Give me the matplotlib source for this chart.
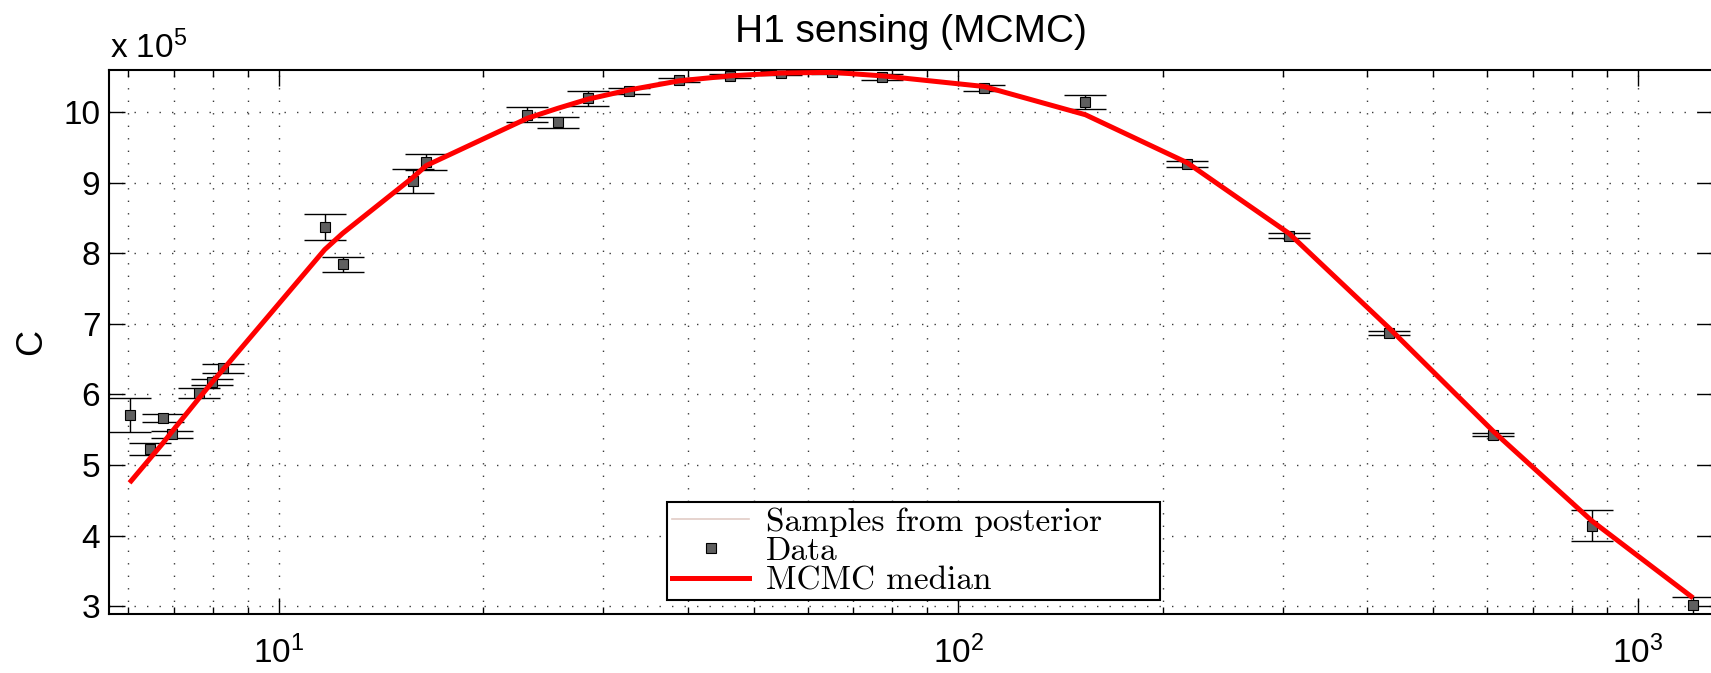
import matplotlib
matplotlib.use("Agg")
from matplotlib import pyplot as plt
from matplotlib.lines import Line2D
from matplotlib.ticker import LogLocator, FixedLocator, FuncFormatter

# frequency points (Hz) and C values in units of 1e5
freq = [6.03, 6.47, 6.75, 6.97, 7.62, 7.97, 8.29, 11.68, 12.41, 15.74, 16.48,
        23.22, 25.72, 28.5, 32.73, 38.85, 46.1, 54.74, 65.2, 77.3, 109.0,
        153.8, 217.2, 306.6, 430.5, 612.5, 855.9, 1206.0]
data = [5.71, 5.225, 5.67, 5.44, 6.02, 6.18, 6.37, 8.37, 7.84, 9.02, 9.29,
        9.96, 9.85, 10.19, 10.30, 10.45, 10.51, 10.55, 10.56, 10.49, 10.34,
        10.14, 9.26, 8.25, 6.866, 5.433, 4.14, 3.02]
err = [0.235, 0.085, 0.06, 0.05, 0.07, 0.04, 0.06, 0.19, 0.11, 0.165, 0.11,
       0.11, 0.08, 0.11, 0.04, 0.03, 0.03, 0.03, 0.03, 0.04, 0.045,
       0.095, 0.04, 0.04, 0.03, 0.025, 0.22, 0.12]
median = [4.75, 5.10, 5.31, 5.48, 5.94, 6.17, 6.36, 8.05, 8.28, 9.07, 9.24,
          9.91, 10.05, 10.18, 10.31, 10.44, 10.51, 10.55, 10.56, 10.51, 10.36,
          9.96, 9.28, 8.28, 6.94, 5.48, 4.21, 3.12]

y_ticks = [3, 4, 5, 6, 7, 8, 9, 10]
legend_labels = ["Samples from posterior", "Data", "MCMC median"]

SAMPLE_COLOR = "#e2ccc6"
MARKER_FACE = "#5f5f5f"

plt.rcParams["font.family"] = ["Liberation Sans", "DejaVu Sans"]
plt.rcParams["mathtext.default"] = "regular"

fig = plt.figure(figsize=(17.11, 6.73), dpi=100)
ax = fig.add_axes([109.3 / 1711, 1 - 613.5 / 673, (1713 - 109.3) / 1711, 543.5 / 673])

ax.plot(freq, median, color=SAMPLE_COLOR, linewidth=0.8, zorder=2)
ax.errorbar(freq, data, yerr=err, fmt="none", ecolor="black", elinewidth=1.0,
            capsize=14.8, capthick=1.0, zorder=3)
ax.plot(freq, data, linestyle="none", marker="s", markersize=6.8,
        markerfacecolor=MARKER_FACE, markeredgecolor="black",
        markeredgewidth=0.8, zorder=4)
ax.plot(freq, median, color="red", linewidth=3.6, zorder=5,
        solid_capstyle="butt")

ax.set_xscale("log")
ax.set_xlim(5.63, 1290)
ax.set_ylim(2.90, 10.593)

ax.xaxis.set_major_locator(LogLocator(base=10, numticks=10))
ax.xaxis.set_minor_locator(LogLocator(base=10, subs=range(2, 10), numticks=20))
ax.yaxis.set_major_locator(FixedLocator(y_ticks))
ax.yaxis.set_major_formatter(FuncFormatter(lambda v, p: f"{v:g}"))

ax.grid(True, which="major", color="#3a3a3a", linewidth=1.0,
        linestyle=(0, (1, 8)))
ax.grid(True, which="minor", axis="x", color="#3a3a3a", linewidth=1.0,
        linestyle=(0, (1, 8)))

ax.tick_params(which="both", direction="in", top=True, right=True,
               labelsize=24, width=1.0)
ax.tick_params(which="major", length=11.5)
ax.tick_params(which="minor", length=5)
ax.tick_params(axis="x", which="major", pad=16)
ax.tick_params(axis="y", which="major", pad=6.5)

for sp in ax.spines.values():
    sp.set_linewidth(1.5)

ax.set_title("H1 sensing (MCMC)", fontsize=28, pad=20)
ax.set_ylabel("C", fontsize=26)
ax.yaxis.set_label_coords(-0.0375, 0.5)
fig.text(110 / 1711, 1 - 58 / 673, r"x 10$^{5}$", fontsize=24, va="baseline")

handles = [
    Line2D([], [], color=SAMPLE_COLOR, linewidth=1.2),
    Line2D([], [], linestyle="none", marker="s", markersize=6.8,
           markerfacecolor=MARKER_FACE, markeredgecolor="black",
           markeredgewidth=0.8),
    Line2D([], [], color="red", linewidth=3.6),
]
leg = ax.legend(handles, legend_labels, loc="lower left",
                bbox_to_anchor=(0.348, 0.024, 0.3072, 0.19), mode="expand",
                borderaxespad=0, prop={"family": "cmr10", "size": 24},
                fancybox=False, framealpha=1, edgecolor="black",
                handlelength=2.3, handletextpad=0.5, labelspacing=0.0,
                borderpad=0.15)
leg.get_frame().set_linewidth(1.5)

fig.savefig("out.png", dpi=100)
